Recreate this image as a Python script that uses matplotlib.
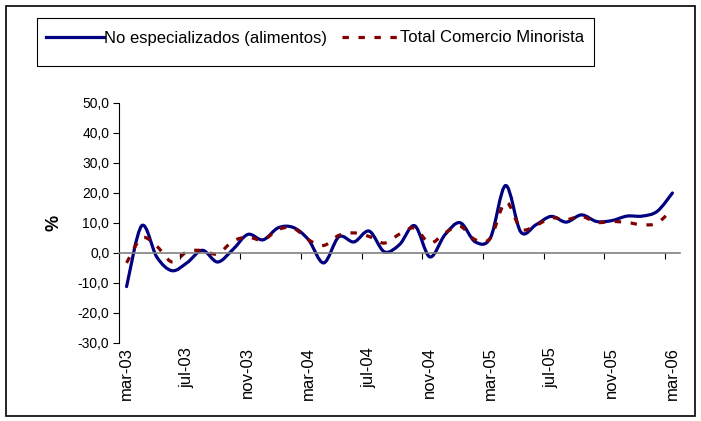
# two monthly series, mar-03 to mar-06

import matplotlib
matplotlib.use("Agg")
import matplotlib.pyplot as plt
from matplotlib.patches import Rectangle, PathPatch
from matplotlib.path import Path
from matplotlib.lines import Line2D

plt.rcParams['font.family'] = ['Liberation Sans', 'DejaVu Sans']

months = ["mar-03", "abr-03", "may-03", "jun-03", "jul-03", "ago-03", "sep-03", "oct-03",
          "nov-03", "dic-03", "ene-04", "feb-04", "mar-04", "abr-04", "may-04", "jun-04",
          "jul-04", "ago-04", "sep-04", "oct-04", "nov-04", "dic-04", "ene-05", "feb-05",
          "mar-05", "abr-05", "may-05", "jun-05", "jul-05", "ago-05", "sep-05", "oct-05",
          "nov-05", "dic-05", "ene-06", "feb-06", "mar-06"]

no_especializados = [-11.3, 9.0, -1.5, -6.0, -3.3, 0.8, -3.1, 1.0,
                     6.1, 4.3, 8.3, 8.4, 4.3, -3.4, 5.3, 3.6,
                     7.2, 0.3, 2.7, 9.0, -1.4, 6.0, 10.0, 3.6,
                     5.0, 22.4, 6.9, 9.3, 12.1, 10.2, 12.6, 10.4,
                     10.7, 12.2, 12.2, 13.8, 19.9]

total_minorista = [-3.4, 4.9, 2.1, -3.1, 0.4, 0.7, -0.4, 3.8,
                   5.2, 4.2, 7.7, 8.2, 4.3, 2.4, 5.8, 6.6,
                   5.4, 3.2, 6.2, 8.2, 3.2, 6.6, 8.8, 4.3,
                   4.9, 16.9, 8.0, 9.1, 11.6, 11.0, 12.1, 10.1,
                   10.4, 10.1, 9.3, 9.9, 14.6]

x = list(range(len(months)))


def smooth_path(xs, ys):
    # excel-style smoothed line: cubic bezier through every point
    n = len(xs)
    verts = [(xs[0], ys[0])]
    codes = [Path.MOVETO]
    for i in range(n - 1):
        p0 = (xs[max(i - 1, 0)], ys[max(i - 1, 0)])
        p1 = (xs[i], ys[i])
        p2 = (xs[i + 1], ys[i + 1])
        p3 = (xs[min(i + 2, n - 1)], ys[min(i + 2, n - 1)])
        c1 = (p1[0] + (p2[0] - p0[0]) / 6, p1[1] + (p2[1] - p0[1]) / 6)
        c2 = (p2[0] - (p3[0] - p1[0]) / 6, p2[1] - (p3[1] - p1[1]) / 6)
        verts += [c1, c2, p2]
        codes += [Path.CURVE4] * 3
    return Path(verts, codes)


fig = plt.figure(figsize=(7.01, 4.21), dpi=100)
ax = fig.add_axes([119 / 701, 1 - 342.7 / 421, 561 / 701, 240 / 421])

blue = "#000080"
red = "#800000"
dash = (0, (2, 3))

ax.add_patch(PathPatch(smooth_path(x, no_especializados), fill=False, edgecolor=blue,
                       lw=2.3, joinstyle="round", capstyle="round"))
ax.add_patch(PathPatch(smooth_path(x, total_minorista), fill=False, edgecolor=red,
                       lw=2.3, linestyle=dash, capstyle="butt"))

ax.set_xlim(-0.5, len(months) - 0.5)
ax.set_ylim(-30, 50)
ax.set_yticks(range(-30, 51, 10))
ax.set_yticklabels([f"{v},0" for v in range(-30, 51, 10)], fontsize=10)
ax.tick_params(axis="y", direction="out", length=4, width=0.8, pad=3)

# category axis crosses at 0, ticks between categories
ax.spines["bottom"].set_position(("data", 0))
ax.spines["bottom"].set_color("#808080")
ax.spines["bottom"].set_linewidth(1.2)
ax.spines["top"].set_visible(False)
ax.spines["right"].set_visible(False)
ax.spines["left"].set_color("black")
ax.spines["left"].set_linewidth(0.8)
ax.set_xticks([i - 0.5 for i in range(0, len(months), 4)])
ax.set_xticklabels([])
ax.tick_params(axis="x", direction="out", length=4, width=0.8, color="black")

sec = ax.secondary_xaxis(0)
sec.set_xticks(x[::4])
sec.set_xticklabels(months[::4], rotation=90, fontsize=12)
sec.tick_params(length=0, pad=3)
sec.spines["bottom"].set_visible(False)

ax.set_ylabel("%", fontsize=13, fontweight="bold", labelpad=11)

handles = [Line2D([], [], color=blue, lw=2.3),
           Line2D([], [], color=red, lw=2.3, linestyle=dash)]
labels = ["No especializados (alimentos)", "Total Comercio Minorista"]
fig.legend(handles, labels, loc="center left", bbox_to_anchor=(39 / 701, 1 - 38 / 421),
           ncol=2, frameon=False, fontsize=12, handlelength=3.5, columnspacing=0.9,
           handletextpad=0.0, borderaxespad=0)

fig.patches.append(Rectangle((37 / 701, 1 - 66 / 421), 557 / 701, 48 / 421,
                             transform=fig.transFigure, fill=False, edgecolor="black", lw=0.8))
fig.patches.append(Rectangle((6 / 701, 1 - 416 / 421), 689 / 701, 410 / 421,
                             transform=fig.transFigure, fill=False, edgecolor="black", lw=1.2))

plt.savefig("out.png", dpi=100)
